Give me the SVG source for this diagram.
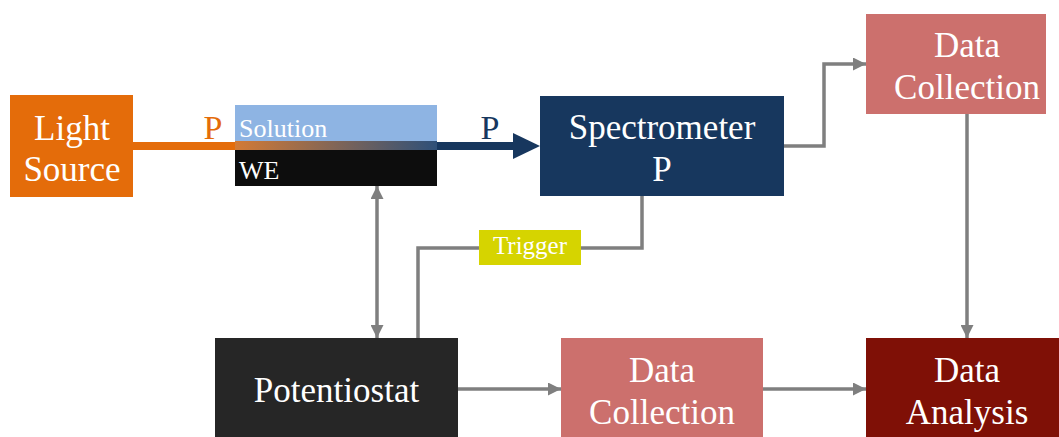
<svg xmlns="http://www.w3.org/2000/svg" width="1059" height="437" viewBox="0 0 1059 437">
  <style>
    .lbl { font-family: "Liberation Serif", "Times New Roman", serif; fill: #ffffff; text-anchor: middle; font-size: 35px; }
    .small { font-family: "Liberation Serif", "Times New Roman", serif; fill: #ffffff; font-size: 26px; }
    .conn { fill: none; stroke: #7f7f7f; stroke-width: 3.5; }
  </style>
  <defs>
    <marker id="arrow" viewBox="0 0 10 10" refX="10" refY="5" markerWidth="13" markerHeight="13" markerUnits="userSpaceOnUse" orient="auto-start-reverse">
      <path d="M0,0 L10,5 L0,10 z" fill="#7f7f7f"/>
    </marker>
    <linearGradient id="beam" x1="0" y1="0" x2="1" y2="0">
      <stop offset="0" stop-color="#e46c0a"/>
      <stop offset="1" stop-color="#17375e"/>
    </linearGradient>
  </defs>

  <rect width="1059" height="437" fill="#ffffff"/>

  <!-- connectors -->
  <g id="connectors">
    <!-- light beam into the cell -->
    <rect x="133" y="142" width="102" height="8" fill="#e46c0a"/>
    <!-- beam out of the cell to the spectrometer -->
    <rect x="437" y="142" width="78" height="8" fill="#17375e"/>
    <polygon points="513,133 540,146 513,159" fill="#17375e"/>
    <!-- spectrometer to data collection -->
    <polyline class="conn" points="784,146 824,146 824,64 866,64" marker-end="url(#arrow)"/>
    <!-- data collection to data analysis -->
    <line class="conn" x1="967" y1="114" x2="967" y2="338" marker-end="url(#arrow)"/>
    <!-- potentiostat to data collection -->
    <line class="conn" x1="458" y1="389" x2="561" y2="389" marker-end="url(#arrow)"/>
    <!-- data collection to data analysis -->
    <line class="conn" x1="763" y1="389" x2="866" y2="389" marker-end="url(#arrow)"/>
    <!-- WE to potentiostat, both ways -->
    <line class="conn" x1="377" y1="186" x2="377" y2="338" marker-start="url(#arrow)" marker-end="url(#arrow)"/>
    <!-- trigger line -->
    <polyline class="conn" points="418,338 418,248 480,248"/>
    <polyline class="conn" points="580,248 642,248 642,196"/>
  </g>

  <!-- light source -->
  <g id="light-source">
    <rect x="10" y="95" width="123" height="102" fill="#e46c0a"/>
    <text class="lbl" x="72" y="140">Light</text>
    <text class="lbl" x="72" y="181">Source</text>
  </g>

  <text x="213" y="139" font-family="Liberation Serif, serif" font-size="34" fill="#e46c0a" text-anchor="middle">P</text>
  <text x="490" y="139" font-family="Liberation Serif, serif" font-size="34" fill="#17375e" text-anchor="middle">P</text>

  <!-- electrochemical cell -->
  <g id="cell">
    <rect x="235" y="105" width="202" height="45" fill="#8eb4e3"/>
    <rect x="235" y="141" width="202" height="9" fill="url(#beam)" opacity="0.8"/>
    <rect x="235" y="150" width="202" height="36" fill="#0d0d0d"/>
    <text class="small" x="239" y="137">Solution</text>
    <text class="small" x="239" y="179">WE</text>
  </g>

  <!-- spectrometer -->
  <g id="spectrometer">
    <rect x="540" y="96" width="244" height="100" fill="#17375e"/>
    <text class="lbl" x="662" y="139">Spectrometer</text>
    <text class="lbl" x="662" y="181">P</text>
  </g>

  <!-- data collection (spectra) -->
  <g id="data-collection-top">
    <rect x="866" y="14" width="180" height="100" fill="#cc706d"/>
    <text class="lbl" x="967" y="57">Data</text>
    <text class="lbl" x="967" y="99">Collection</text>
  </g>

  <!-- trigger -->
  <g id="trigger">
    <rect x="479" y="230" width="102" height="35" fill="#d6d400"/>
    <text x="530" y="254" font-family="Liberation Serif, serif" font-size="25" fill="#ffffff" text-anchor="middle">Trigger</text>
  </g>

  <!-- potentiostat -->
  <g id="potentiostat">
    <rect x="215" y="338" width="243" height="99" fill="#262626"/>
    <text class="lbl" x="336.5" y="402">Potentiostat</text>
  </g>

  <!-- data collection (electrochemistry) -->
  <g id="data-collection-bottom">
    <rect x="561" y="338" width="202" height="99" fill="#cc706d"/>
    <text class="lbl" x="662" y="382">Data</text>
    <text class="lbl" x="662" y="424">Collection</text>
  </g>

  <!-- data analysis -->
  <g id="data-analysis">
    <rect x="866" y="338" width="193" height="99" fill="#7f1006"/>
    <text class="lbl" x="967" y="382">Data</text>
    <text class="lbl" x="967" y="424">Analysis</text>
  </g>
</svg>
